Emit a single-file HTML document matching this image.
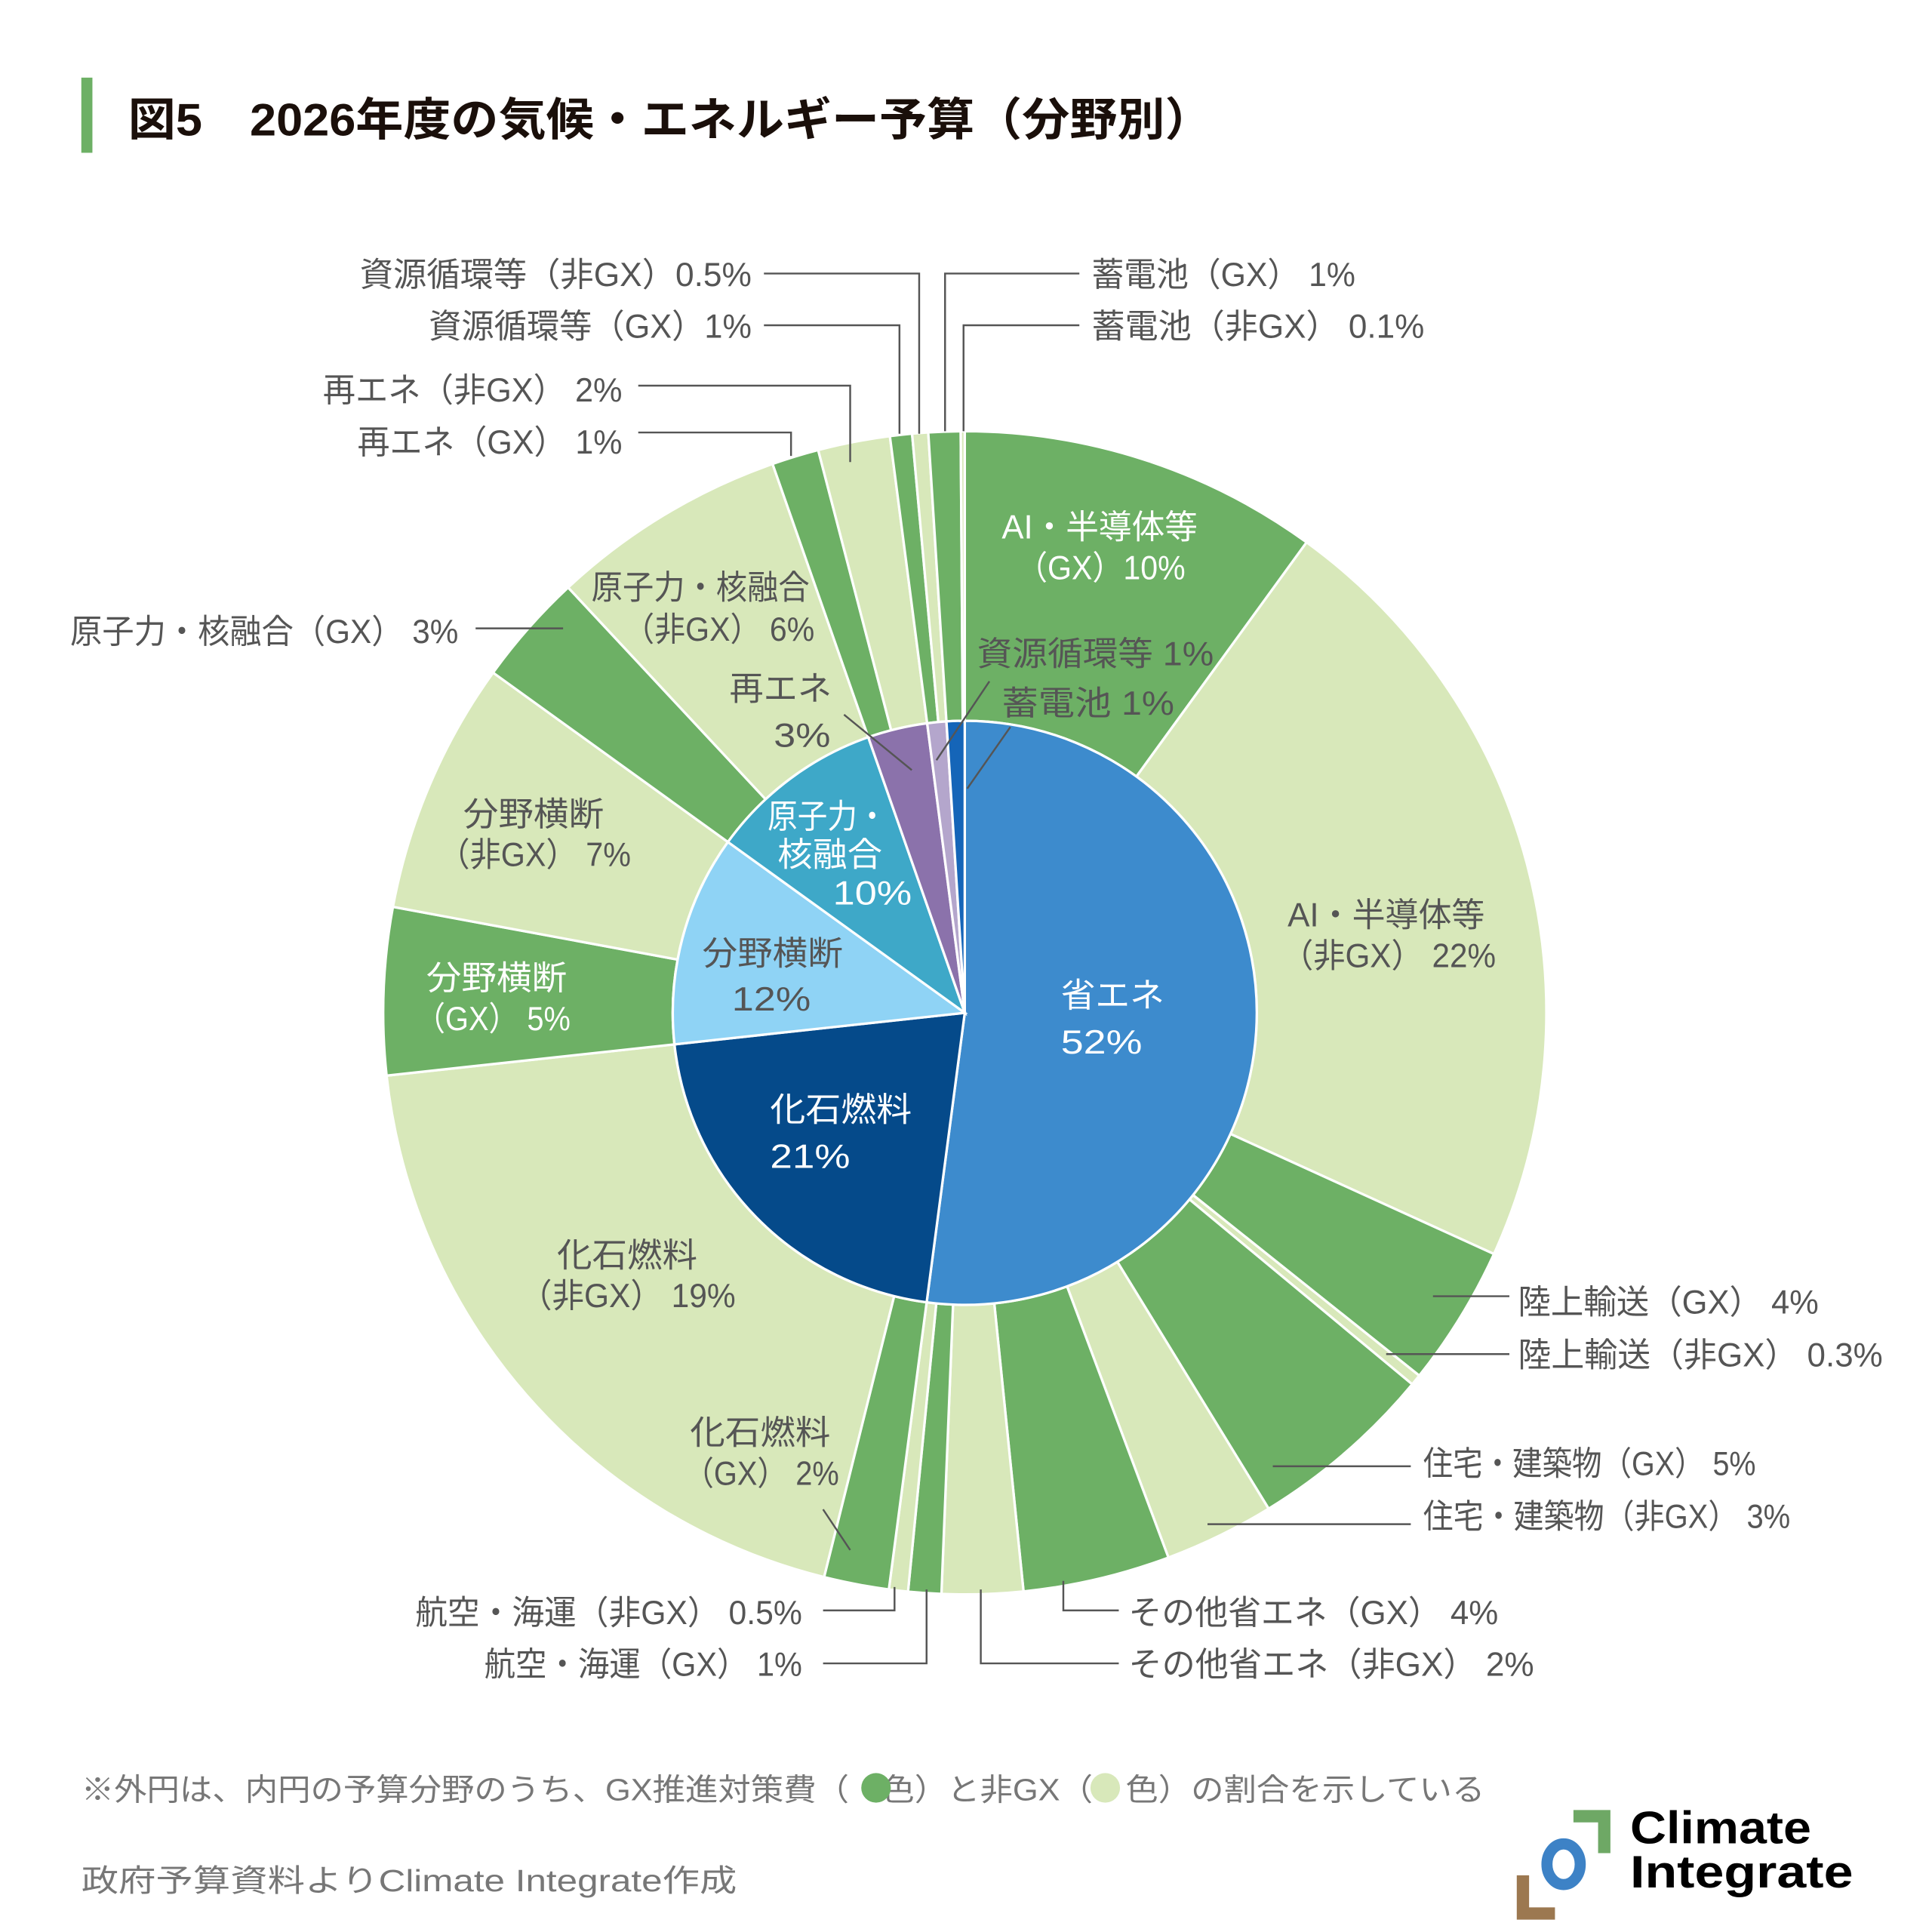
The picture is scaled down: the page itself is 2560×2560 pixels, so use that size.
<!DOCTYPE html>
<html><head><meta charset="utf-8"><style>
html,body{margin:0;padding:0;background:#fff;}
svg{display:block;}
text{font-family:"Liberation Sans","Noto Sans CJK JP",sans-serif;}
</style></head><body>
<svg id="s" width="2560" height="2560" viewBox="0 0 1568 1568" xmlns="http://www.w3.org/2000/svg">
<rect width="1568" height="1568" fill="#fff"/>
<rect x="66" y="63" width="9" height="61" fill="#6db065"/>
<text x="104" y="110" font-size="37" font-weight="bold" fill="#1a0f0a" textLength="880" lengthAdjust="spacingAndGlyphs">図5　2026年度の気候・エネルギー予算（分野別）</text>
<g id="pie"></g>
<g stroke="#555" stroke-width="1.5" fill="none">
<polyline points="620,222 746,222 746,352"/>
<polyline points="620,264 730,264 730,352"/>
<polyline points="518,313 690,313 690,375"/>
<polyline points="518,351 642,351 642,370"/>
<polyline points="876,222 767,222 767,350"/>
<polyline points="876,264 782,264 782,350"/>
<polyline points="386,510 457,510"/>
<polyline points="1163,1052 1225,1052"/>
<polyline points="1125,1099 1225,1099"/>
<polyline points="1033,1190 1145,1190"/>
<polyline points="980,1237 1145,1237"/>
<polyline points="863,1283 863,1307 908,1307"/>
<polyline points="796,1290 796,1350 908,1350"/>
<polyline points="668,1307 726,1307 726,1288"/>
<polyline points="668,1350 752,1350 752,1290"/>
<polyline points="668,1225 690,1258"/>
<polyline points="685,580 740,625"/>
<polyline points="803,553 760,617"/>
<polyline points="820,590 785,640"/>
</g>
<g font-size="27" fill="#555" lengthAdjust="spacingAndGlyphs">
<text x="292" y="232" textLength="318" lengthAdjust="spacingAndGlyphs">資源循環等（非GX）0.5%</text>
<text x="348" y="274" textLength="262" lengthAdjust="spacingAndGlyphs">資源循環等（GX）1%</text>
<text x="262" y="326" textLength="243" lengthAdjust="spacingAndGlyphs">再エネ（非GX） 2%</text>
<text x="290" y="368" textLength="215" lengthAdjust="spacingAndGlyphs">再エネ（GX） 1%</text>
<text x="57" y="522" textLength="315" lengthAdjust="spacingAndGlyphs">原子力・核融合（GX） 3%</text>
<text x="886" y="232" textLength="214" lengthAdjust="spacingAndGlyphs">蓄電池（GX） 1%</text>
<text x="886" y="274" textLength="270" lengthAdjust="spacingAndGlyphs">蓄電池（非GX） 0.1%</text>
<text x="1232" y="1066" textLength="244" lengthAdjust="spacingAndGlyphs">陸上輸送（GX） 4%</text>
<text x="1232" y="1109" textLength="296" lengthAdjust="spacingAndGlyphs">陸上輸送（非GX） 0.3%</text>
<text x="1155" y="1197" textLength="270" lengthAdjust="spacingAndGlyphs">住宅・建築物（GX） 5%</text>
<text x="1155" y="1240" textLength="298" lengthAdjust="spacingAndGlyphs">住宅・建築物（非GX） 3%</text>
<text x="916" y="1318" textLength="300" lengthAdjust="spacingAndGlyphs">その他省エネ（GX） 4%</text>
<text x="916" y="1360" textLength="329" lengthAdjust="spacingAndGlyphs">その他省エネ（非GX） 2%</text>
<text x="337" y="1318" textLength="314" lengthAdjust="spacingAndGlyphs">航空・海運（非GX） 0.5%</text>
<text x="393" y="1360" textLength="258" lengthAdjust="spacingAndGlyphs">航空・海運（GX） 1%</text>

<text x="1045" y="752" textLength="160" lengthAdjust="spacingAndGlyphs">AI・半導体等</text><text x="1040" y="785" textLength="174" lengthAdjust="spacingAndGlyphs">（非GX） 22%</text>
<text x="480" y="486" textLength="177" lengthAdjust="spacingAndGlyphs">原子力・核融合</text><text x="506" y="520" textLength="155" lengthAdjust="spacingAndGlyphs">（非GX） 6%</text>
<text x="376" y="670" textLength="114" lengthAdjust="spacingAndGlyphs">分野横断</text><text x="356" y="703" textLength="156" lengthAdjust="spacingAndGlyphs">（非GX） 7%</text>
<text x="452" y="1028" textLength="114" lengthAdjust="spacingAndGlyphs">化石燃料</text><text x="422" y="1061" textLength="175" lengthAdjust="spacingAndGlyphs">（非GX） 19%</text>
<text x="560" y="1172" textLength="114" lengthAdjust="spacingAndGlyphs">化石燃料</text><text x="555" y="1205" textLength="126" lengthAdjust="spacingAndGlyphs">（GX） 2%</text>
<text x="793" y="540" textLength="192" lengthAdjust="spacingAndGlyphs">資源循環等 1%</text>
<text x="813" y="580" textLength="140" lengthAdjust="spacingAndGlyphs">蓄電池 1%</text>
<text x="592" y="568" textLength="83" lengthAdjust="spacingAndGlyphs">再エネ</text><text x="628" y="606" textLength="46" lengthAdjust="spacingAndGlyphs">3%</text>
<text x="570" y="783" textLength="114" lengthAdjust="spacingAndGlyphs">分野横断</text><text x="594" y="820" textLength="64" lengthAdjust="spacingAndGlyphs">12%</text>
</g>
<g font-size="27" fill="#fff">
<text x="813" y="437" textLength="159" lengthAdjust="spacingAndGlyphs">AI・半導体等</text><text x="825" y="470" textLength="137" lengthAdjust="spacingAndGlyphs">（GX）10%</text>
<text x="346" y="803" textLength="114" lengthAdjust="spacingAndGlyphs">分野横断</text><text x="337" y="836" textLength="126" lengthAdjust="spacingAndGlyphs">（GX） 5%</text>
<text x="623" y="672" textLength="97" lengthAdjust="spacingAndGlyphs">原子力・</text><text x="631" y="703" textLength="85" lengthAdjust="spacingAndGlyphs">核融合</text><text x="676" y="734" textLength="64" lengthAdjust="spacingAndGlyphs">10%</text>
<text x="861" y="817" textLength="84" lengthAdjust="spacingAndGlyphs">省エネ</text><text x="861" y="855" textLength="66" lengthAdjust="spacingAndGlyphs">52%</text>
<text x="625" y="910" textLength="115" lengthAdjust="spacingAndGlyphs">化石燃料</text><text x="625" y="948" textLength="65" lengthAdjust="spacingAndGlyphs">21%</text>
</g>
<text x="66" y="1461" font-size="25" fill="#777" textLength="1139" lengthAdjust="spacingAndGlyphs">※外円は、内円の予算分野のうち、GX推進対策費（　色）と非GX（　色）の割合を示している</text>
<circle cx="711" cy="1451" r="12" fill="#6db065"/>
<circle cx="897" cy="1451" r="12" fill="#d8e8ba"/>
<text x="66" y="1535" font-size="25" fill="#777" textLength="532" lengthAdjust="spacingAndGlyphs">政府予算資料よりClimate Integrate作成</text>
<path d="M1277,1469 H1307 V1504 H1297 V1479 H1277 Z" fill="#6ea865"/>
<path d="M1231,1522 H1241 V1548 H1262 V1558 H1231 Z" fill="#9c7850"/>
<ellipse cx="1269" cy="1513" rx="13.5" ry="16.5" fill="none" stroke="#3d82c6" stroke-width="9"/>
<text x="1323" y="1496" font-size="37" font-weight="bold" fill="#000" textLength="147" lengthAdjust="spacingAndGlyphs">Climate</text>
<text x="1323" y="1532" font-size="37" font-weight="bold" fill="#000" textLength="181" lengthAdjust="spacingAndGlyphs">Integrate</text>
</svg>
<script>
(function(){
var cx=783,cy=822,R=472,r=237;
var DG="#6db065",LG="#d8e8ba";
function pt(a,rad){var t=a*Math.PI/180;return [cx+rad*Math.sin(t),cy-rad*Math.cos(t)];}
function wedge(a0,a1,fill){var p0=pt(a0,r),p1=pt(a1,r);var lg=(a1-a0)>180?1:0;
return '<path d="M'+cx+','+cy+' L'+p0[0]+','+p0[1]+' A'+r+','+r+' 0 '+lg+' 1 '+p1[0]+','+p1[1]+' Z" fill="'+fill+'" stroke="#fff" stroke-width="2"/>';}
function ring(a0,a1,fill){var o0=pt(a0,R),o1=pt(a1,R),i1=pt(a1,r),i0=pt(a0,r);var lg=(a1-a0)>180?1:0;
return '<path d="M'+o0[0]+','+o0[1]+' A'+R+','+R+' 0 '+lg+' 1 '+o1[0]+','+o1[1]+' L'+i1[0]+','+i1[1]+' A'+r+','+r+' 0 '+lg+' 0 '+i0[0]+','+i0[1]+' Z" fill="'+fill+'" stroke="#fff" stroke-width="2"/>';}
var outer=[[0,36,DG],[36,114.5,LG],[114.5,128.6,DG],[128.6,129.7,LG],[129.7,148.5,DG],[148.5,159.5,LG],[159.5,174.2,DG],[174.2,182.3,LG],[182.3,185.6,DG],[185.6,187.5,LG],
[187.5,194,DG],[194,263.8,LG],[263.8,280.5,DG],[280.5,305.8,LG],[305.8,317,DG],[317,340.7,LG],[340.7,345.4,DG],[345.4,352.6,LG],[352.6,354.8,DG],[354.8,356.4,LG],[356.4,359.6,DG],[359.6,360,LG]];
var inner=[[0,187.5,"#3d8bcd"],[187.5,263.8,"#054a8a"],[263.8,305.8,"#8fd3f5"],[305.8,340.7,"#3ea8c8"],[340.7,352.6,"#8b72ab"],[352.6,356.4,"#b4a6cc"],[356.4,360,"#1565b8"]];
var h='';outer.forEach(function(s){h+=ring(s[0],s[1],s[2]);});inner.forEach(function(s){h+=wedge(s[0],s[1],s[2]);});
document.getElementById('pie').innerHTML=h;
})();
</script>
</body></html>
